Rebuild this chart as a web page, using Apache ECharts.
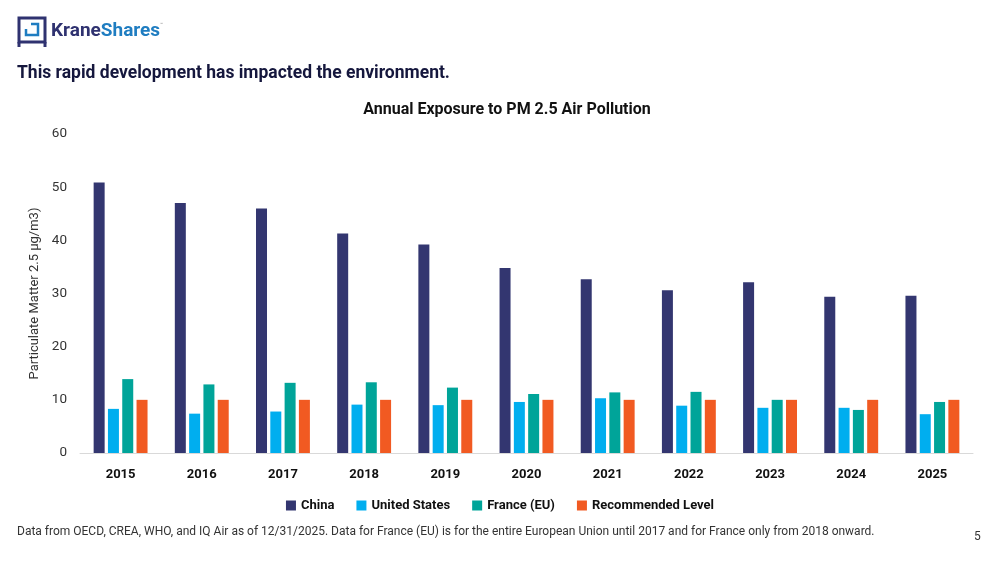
<!DOCTYPE html>
<html>
<head>
<meta charset="utf-8">
<style>
  html, body { margin: 0; padding: 0; background: #fff; }
  #main { width: 1000px; height: 563px; }
</style>
<script src="https://cdn.jsdelivr.net/npm/echarts@6/dist/echarts.min.js"></script>
</head>
<body>
<div id="main"></div>
<script>
// data
const years = ['2015', '2016', '2017', '2018', '2019', '2020', '2021', '2022', '2023', '2024', '2025']
const china = [50.9, 47.0, 46.0, 41.3, 39.2, 34.8, 32.7, 30.6, 32.1, 29.4, 29.6]
const unitedStates = [8.3, 7.4, 7.8, 9.1, 9.0, 9.6, 10.3, 8.9, 8.5, 8.5, 7.3]
const france = [13.9, 12.9, 13.2, 13.3, 12.3, 11.1, 11.4, 11.5, 10.0, 8.1, 9.6]
const recommended = [10, 10, 10, 10, 10, 10, 10, 10, 10, 10, 10]

const font = 'Roboto'
const navy = '#2f3270'

const myChart = echarts.init(document.getElementById('main'))

function bar(name, data, color) {
  return {
    name: name,
    type: 'bar',
    data: data,
    barWidth: 11,
    barGap: '30%',
    itemStyle: { color: color },
  }
}

var option = {
  animation: false,
  title: {
    text: 'Annual Exposure to PM 2.5 Air Pollution',
    left: 502,
    top: 97,
    textAlign: 'center',
    textStyle: { fontFamily: font, fontSize: 16, fontWeight: 'bold', color: '#111' },
  },
  legend: {
    data: ['China', 'United States', 'France (EU)', 'Recommended Level'],
    left: 'center',
    top: 494,
    itemWidth: 10,
    itemHeight: 10,
    itemGap: 22,
    icon: 'rect',
    textStyle: { fontFamily: font, fontSize: 13, fontWeight: 'bold', color: '#111' },
  },
  grid: { left: 80, right: 27, top: 134, bottom: 110 },
  xAxis: {
    type: 'category',
    data: years,
    axisTick: { show: false },
    axisLine: { lineStyle: { color: '#d9d9d9', width: 1 } },
    axisLabel: { fontFamily: font, fontSize: 13, fontWeight: 'bold', color: '#111', margin: 15 },
  },
  yAxis: {
    type: 'value',
    min: 0,
    max: 60,
    interval: 10,
    name: 'Particulate Matter 2.5 µg/m3)',
    nameLocation: 'middle',
    nameGap: 27,
    nameTextStyle: { fontFamily: font, fontSize: 13, color: '#333' },
    splitLine: { show: false },
    axisLine: { show: false },
    axisTick: { show: false },
    axisLabel: { fontFamily: font, fontSize: 13.5, color: '#333', margin: 13 },
  },
  series: [
    bar('China', china, '#333670'),
    bar('United States', unitedStates, '#00aeef'),
    bar('France (EU)', france, '#00a499'),
    bar('Recommended Level', recommended, '#f15a22'),
  ],
  graphic: [
    // logo mark
    { type: 'rect', shape: { x: 19, y: 18, width: 26, height: 24 }, style: { fill: 'none', stroke: navy, lineWidth: 3 } },
    { type: 'line', shape: { x1: 19, y1: 42, x2: 19, y2: 47 }, style: { stroke: navy, lineWidth: 3 } },
    { type: 'line', shape: { x1: 45, y1: 42, x2: 45, y2: 47 }, style: { stroke: navy, lineWidth: 3 } },
    { type: 'polyline', shape: { points: [[31, 24], [38, 24], [38, 35], [26, 35], [26, 29]] }, style: { fill: 'none', stroke: '#1f7dc1', lineWidth: 2.5 } },
    {
      type: 'text', left: 51, top: 22,
      style: {
        text: '{a|Krane}{b|Shares}{c|™}',
        rich: {
          a: { fontFamily: font, fontSize: 19, fontWeight: 'bold', fill: navy },
          b: { fontFamily: font, fontSize: 19, fontWeight: 'bold', fill: '#1f7dc1' },
          c: { fontFamily: font, fontSize: 5, fill: '#888', verticalAlign: 'top' },
        },
      },
    },
    {
      type: 'text', left: 17, top: 65,
      style: { text: 'This rapid development has impacted the environment.', fontFamily: font, fontSize: 17.5, fontWeight: 'bold', fill: '#15173d' },
    },
    {
      type: 'text', left: 17, top: 526,
      style: {
        text: 'Data from OECD, CREA, WHO, and IQ Air as of 12/31/2025. Data for France (EU) is for the entire European Union until 2017 and for France only from 2018 onward.',
        fontFamily: font, fontSize: 12, fill: '#333',
      },
    },
    { type: 'text', left: 974, top: 531, style: { text: '5', fontFamily: font, fontSize: 12, fill: '#333' } },
  ],
}

myChart.setOption(option)
</script>
</body>
</html>
